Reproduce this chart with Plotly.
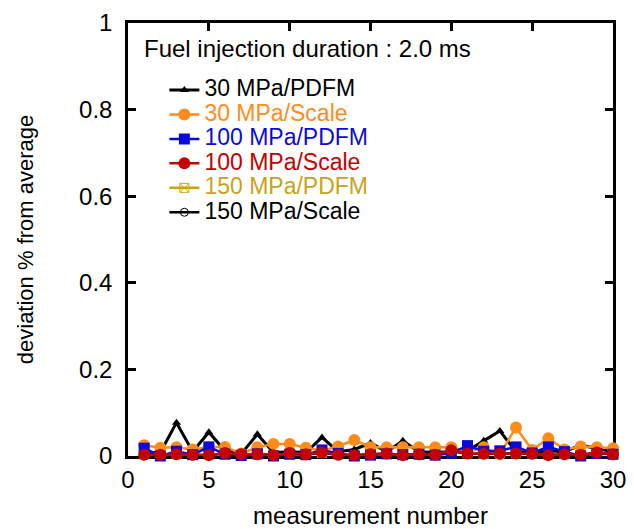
import plotly.graph_objects as go

measurement = list(range(1, 31))

pdfm_30 = [0.008, 0.008, 0.077, 0.010, 0.055, 0.012, 0.005, 0.050, 0.008, 0.010,
           0.008, 0.043, 0.010, 0.015, 0.030, 0.010, 0.035, 0.010, 0.008, 0.010,
           0.012, 0.035, 0.058, 0.010, 0.008, 0.012, 0.010, 0.025, 0.018, 0.010]
scale_30 = [0.025, 0.019, 0.020, 0.015, 0.020, 0.021, 0.006, 0.020, 0.028, 0.028,
            0.019, 0.012, 0.022, 0.037, 0.020, 0.020, 0.020, 0.020, 0.020, 0.020,
            0.010, 0.020, 0.004, 0.066, 0.014, 0.041, 0.015, 0.022, 0.020, 0.018]
pdfm_100 = [0.018, 0.000, 0.011, 0.003, 0.021, 0.004, 0.001, 0.005, 0.000, 0.004,
            0.003, 0.014, 0.006, 0.000, 0.002, 0.005, 0.003, 0.004, 0.002, 0.006,
            0.024, 0.011, 0.012, 0.021, 0.007, 0.021, 0.010, 0.000, 0.006, 0.004]
scale_100 = [0.003, 0.003, 0.004, 0.003, 0.002, 0.007, 0.004, 0.004, 0.002, 0.007,
             0.004, 0.008, 0.003, 0.002, 0.004, 0.006, 0.002, 0.004, 0.003, 0.013,
             0.006, 0.005, 0.006, 0.006, 0.005, 0.002, 0.004, 0.003, 0.008, 0.004]
pdfm_150 = [0.003, 0.003, 0.004, 0.003, 0.002, 0.006, 0.004, 0.004, 0.002, 0.006,
            0.004, 0.007, 0.003, 0.002, 0.004, 0.005, 0.002, 0.004, 0.003, 0.011,
            0.006, 0.005, 0.006, 0.006, 0.005, 0.002, 0.004, 0.003, 0.007, 0.004]
scale_150 = [0.003, 0.003, 0.004, 0.003, 0.002, 0.006, 0.004, 0.004, 0.002, 0.006,
             0.004, 0.007, 0.003, 0.002, 0.004, 0.005, 0.002, 0.004, 0.003, 0.011,
             0.006, 0.005, 0.006, 0.006, 0.005, 0.002, 0.004, 0.003, 0.007, 0.004]

BLACK = "#000000"
ORANGE = "#ff8c1a"
BLUE = "#0a0adc"
RED = "#c40000"
GOLD = "#c9a21a"

FONT = "Liberation Sans, Arial, sans-serif"
TXT = 24
LEG_TXT = 23


def label(text, color):
    return f'<span style="color:{color};font-size:{LEG_TXT}px">{text}</span>'


fig = go.Figure()

# drawn first (behind)
fig.add_trace(go.Scatter(x=measurement, y=pdfm_150, mode="lines+markers",
                         name=label("150 MPa/PDFM", GOLD), legendrank=5,
                         line=dict(color=GOLD, width=2.5),
                         marker=dict(symbol="square-x-open", size=9, color=GOLD),
                         cliponaxis=False))
fig.add_trace(go.Scatter(x=measurement, y=scale_150, mode="lines+markers",
                         name=label("150 MPa/Scale", BLACK), legendrank=6,
                         line=dict(color=BLACK, width=2.5),
                         marker=dict(symbol="circle-open-dot", size=8, color=BLACK),
                         cliponaxis=False))
fig.add_trace(go.Scatter(x=measurement, y=pdfm_30, mode="lines+markers",
                         name=label("30 MPa/PDFM", BLACK), legendrank=1,
                         line=dict(color=BLACK, width=3),
                         marker=dict(symbol="triangle-up", size=8, color=BLACK),
                         cliponaxis=False))
fig.add_trace(go.Scatter(x=measurement, y=scale_30, mode="lines+markers",
                         name=label("30 MPa/Scale", ORANGE), legendrank=2,
                         line=dict(color=ORANGE, width=2.5),
                         marker=dict(symbol="circle", size=12, color=ORANGE),
                         cliponaxis=False))
fig.add_trace(go.Scatter(x=measurement, y=pdfm_100, mode="lines+markers",
                         name=label("100 MPa/PDFM", BLUE), legendrank=3,
                         line=dict(color=BLUE, width=2.5),
                         marker=dict(symbol="square", size=11, color=BLUE),
                         cliponaxis=False))
fig.add_trace(go.Scatter(x=measurement, y=scale_100, mode="lines+markers",
                         name=label("100 MPa/Scale", RED), legendrank=4,
                         line=dict(color=RED, width=2.5),
                         marker=dict(symbol="circle", size=12, color=RED),
                         cliponaxis=False))

axis_common = dict(showline=True, linecolor="black", linewidth=2.5,
                   mirror="ticks", ticks="inside", ticklen=8, tickwidth=2.5,
                   tickcolor="black", showgrid=False, zeroline=False,
                   layer="below traces", automargin=False,
                   tickfont=dict(family=FONT, size=TXT, color="black"))

fig.update_layout(
    width=634, height=529,
    margin=dict(l=128, r=21, t=23, b=73),
    paper_bgcolor="white", plot_bgcolor="white",
    font=dict(family=FONT, size=TXT, color="black"),
    xaxis=dict(range=[0, 30], dtick=5, tick0=0,
               title=dict(text="measurement number", standoff=18,
                          font=dict(family=FONT, size=24)),
               **axis_common),
    yaxis=dict(range=[0, 1], dtick=0.2, tick0=0, ticklabelstandoff=8,
               title=dict(text="deviation % from average", standoff=40,
                          font=dict(family=FONT, size=22)),
               **axis_common),
    showlegend=True,
    legend=dict(x=0.075, y=0.885, xanchor="left", yanchor="top",
                bgcolor="rgba(0,0,0,0)", borderwidth=0,
                font=dict(family=FONT, size=16.5), tracegroupgap=0,
                itemclick=False),
    annotations=[dict(text="Fuel injection duration : 2.0 ms", xref="paper", yref="paper",
                      x=0.028, y=0.942, xanchor="left", yanchor="middle",
                      showarrow=False, font=dict(family=FONT, size=TXT, color="black"))],
)

fig.write_html("out.html")
